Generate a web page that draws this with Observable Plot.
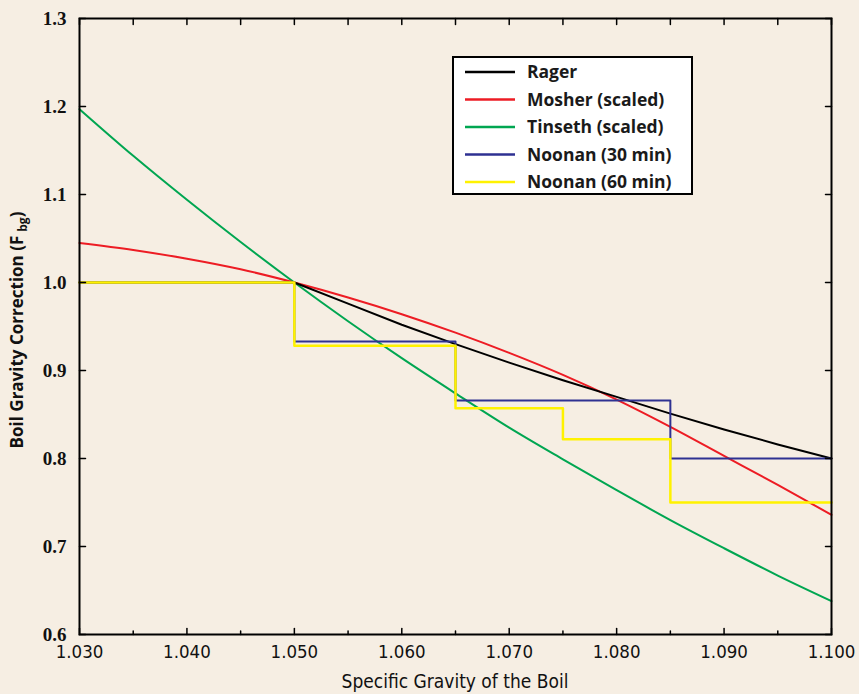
<!DOCTYPE html>
<html><head><meta charset="utf-8">
<script src="https://cdn.jsdelivr.net/npm/d3@7"></script>
<script src="https://cdn.jsdelivr.net/npm/@observablehq/plot@0.6"></script>
<style>
html,body{margin:0;padding:0;background:#f6eee3;}
#chart svg{display:block;}
</style></head><body><div id="chart"></div>
<script>
// ---- data ----
const gravity = [1.030,1.035,1.040,1.045,1.050,1.055,1.060,1.065,1.070,1.075,1.080,1.085,1.090,1.095,1.100];
const rager   = [1.000,1.000,1.000,1.000,1.000,0.976,0.952,0.930,0.909,0.889,0.870,0.851,0.833,0.816,0.800];
const mosher  = [1.045,1.037,1.027,1.015,1.000,0.983,0.964,0.943,0.920,0.895,0.867,0.836,0.803,0.770,0.736];
const tinseth = [1.197,1.144,1.094,1.046,1.000,0.956,0.914,0.874,0.835,0.799,0.764,0.730,0.698,0.667,0.638];
const noonan30X = [1.030,1.050,1.065,1.085,1.100];
const noonan30Y = [1.000,0.933,0.866,0.800,0.800];
const noonan60X = [1.030,1.050,1.065,1.075,1.085,1.100];
const noonan60Y = [1.000,0.928,0.857,0.822,0.750,0.750];

const seriesNames  = ["Rager","Mosher (scaled)","Tinseth (scaled)","Noonan (30 min)","Noonan (60 min)"];
const seriesColors = ["#000000","#ed1c24","#00a651","#2e3192","#fff200"];

const xMajorTicks = [1.030,1.040,1.050,1.060,1.070,1.080,1.090,1.100];
const xMinorTicks = [1.035,1.045,1.055,1.065,1.075,1.085,1.095];
const yTicks = [0.6,0.7,0.8,0.9,1.0,1.1,1.2,1.3];
const xTitle = "Specific Gravity of the Boil";
const yTitle = "Boil Gravity Correction (F";
const yTitleSub = "bg";

// ---- build tables ----
const pts = (xs, ys) => xs.map((x, i) => ({x, y: ys[i]}));
const dRager = pts(gravity, rager);
const dMosher = pts(gravity, mosher);
const dTinseth = pts(gravity, tinseth);
const dN30 = pts(noonan30X, noonan30Y);
const dN60 = pts(noonan60X, noonan60Y);
const allXTicks = [...xMajorTicks, ...xMinorTicks].sort((a,b)=>a-b);
const xMin = xMajorTicks[0], xMax = xMajorTicks[xMajorTicks.length-1];
const yMin = yTicks[0], yMax = yTicks[yTicks.length-1];

// a tick shape: straight segment from anchor in the vector's direction
const tickShape = {draw(context, l) { context.moveTo(0, 0); context.lineTo(0, -l); }};
const tickOpts = {anchor: "start", shape: tickShape, stroke: "#000", strokeWidth: 1.5};

const tickFont = {fontFamily: "'Liberation Serif', serif", fontWeight: "bold", fontSize: 19, fill: "#111"};
const xTickFont = {fontFamily: "'DejaVu Sans Condensed', 'DejaVu Sans', sans-serif", fontSize: 18.5, fill: "#111"};

const plot = Plot.plot({
  width: 859, height: 694,
  marginLeft: 79, marginRight: 28, marginTop: 18, marginBottom: 60,
  x: {domain: [xMin, xMax], label: null},
  y: {domain: [yMin, yMax], label: null},
  style: {background: "transparent", overflow: "visible"},
  marks: [
    Plot.line(dTinseth, {x: "x", y: "y", stroke: seriesColors[2], strokeWidth: 2, curve: "monotone-x"}),
    Plot.line(dMosher, {x: "x", y: "y", stroke: seriesColors[1], strokeWidth: 2, curve: "monotone-x"}),
    Plot.line(dRager, {x: "x", y: "y", stroke: seriesColors[0], strokeWidth: 2}),
    Plot.line(dN30, {x: "x", y: "y", stroke: seriesColors[3], strokeWidth: 2, curve: "step-after"}),
    Plot.line(dN60, {x: "x", y: "y", stroke: seriesColors[4], strokeWidth: 2.5, curve: "step-after"}),
    Plot.frame({stroke: "#000", strokeWidth: 2}),
    // inward ticks
    Plot.vector(xMajorTicks, {x: d => d, y: yMin, length: 6, rotate: 0, ...tickOpts}),
    Plot.vector(xMinorTicks, {x: d => d, y: yMin, length: 3.5, rotate: 0, ...tickOpts}),
    Plot.vector(allXTicks, {x: d => d, y: yMax, length: 6, rotate: 180, ...tickOpts}),
    Plot.vector(yTicks, {x: xMin, y: d => d, length: 6, rotate: 90, ...tickOpts}),
    Plot.vector(yTicks, {x: xMax, y: d => d, length: 6, rotate: -90, ...tickOpts}),
    // labels
    Plot.axisX({anchor: "bottom", ticks: xMajorTicks, tickSize: 0, tickPadding: 10, tickFormat: d3.format(".3f"), label: null, ...xTickFont}),
    Plot.axisY({anchor: "left", ticks: yTicks, tickSize: 0, tickPadding: 13, tickFormat: d3.format(".1f"), label: null, ...tickFont})
  ]
});

const svg = d3.select(plot);
// x title
svg.append("text")
  .attr("x", 455).attr("y", 688)
  .attr("text-anchor", "middle")
  .style("font-family", "'DejaVu Sans Condensed', 'DejaVu Sans', sans-serif")
  .style("font-size", "19px").style("fill", "#111")
  .text(xTitle);
// y title with subscript
const yt = svg.append("text")
  .attr("transform", "translate(23,330) rotate(-90)")
  .attr("text-anchor", "middle")
  .style("font-family", "'Open Sans', sans-serif")
  .style("font-weight", "bold")
  .style("font-size", "17px").style("fill", "#111");
yt.append("tspan").text(yTitle);
yt.append("tspan").attr("dx", 4).attr("dy", 4).style("font-size", "12px").text(yTitleSub);
yt.append("tspan").attr("dy", -4).text(")");

// legend
const lg = svg.append("g");
lg.append("rect").attr("x", 453).attr("y", 57).attr("width", 239).attr("height", 137)
  .attr("fill", "#fff").attr("stroke", "#000").attr("stroke-width", 2);
seriesNames.forEach((name, i) => {
  const cy = 72 + i * 27.5;
  lg.append("line").attr("x1", 465).attr("x2", 515).attr("y1", cy).attr("y2", cy)
    .attr("stroke", seriesColors[i]).attr("stroke-width", 2.5);
  lg.append("text").attr("x", 527).attr("y", cy).attr("dy", "0.36em")
    .attr("text-anchor", "start")
    .style("font-family", "'Open Sans', sans-serif").style("font-weight", "bold")
    .style("font-size", "17.5px").style("fill", "#1a1a1a")
    .text(name);
});

document.getElementById("chart").appendChild(plot);
</script>
</body></html>
